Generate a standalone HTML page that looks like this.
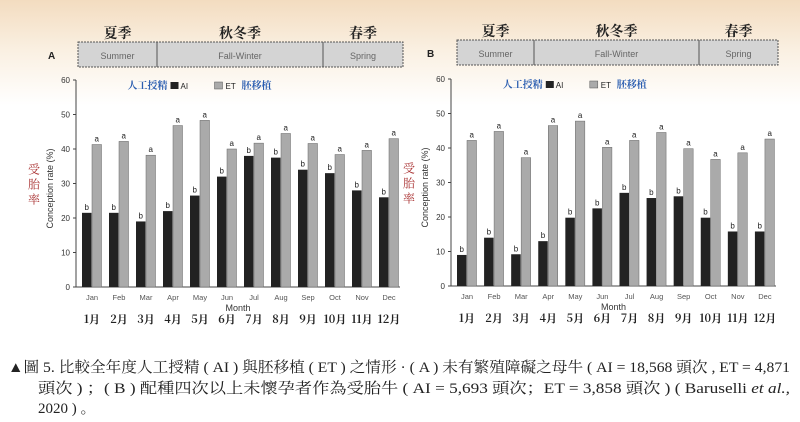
<!DOCTYPE html>
<html><head><meta charset="utf-8"><style>
html,body{margin:0;padding:0;background:#fff;}
svg{display:block;font-family:"Liberation Sans","Noto Sans CJK TC",sans-serif;}
</style></head><body>
<svg id="svg" width="800" height="422" viewBox="0 0 800 422">
<defs><linearGradient id="bg" x1="0" y1="0" x2="0" y2="1">
<stop offset="0" stop-color="#f3dcc0"/><stop offset="0.12" stop-color="#faf0e2"/><stop offset="0.25" stop-color="#ffffff"/></linearGradient></defs>
<rect width="800" height="422" fill="url(#bg)"/>
<g id="caption" font-family="'Liberation Serif','Noto Serif CJK SC',serif" font-size="15" fill="#222">
<text x="8" y="372" textLength="782" lengthAdjust="spacingAndGlyphs">▲圖 5. 比較全年度人工授精 ( AI ) 與胚移植 ( ET ) 之情形 · ( A ) 未有繁殖障礙之母牛 ( AI = 18,568 頭次 , ET = 4,871</text>
<text x="38" y="393" textLength="752" lengthAdjust="spacingAndGlyphs">頭次 ) ；( B ) 配種四次以上未懷孕者作為受胎牛 ( AI = 5,693 頭次；ET = 3,858 頭次 ) ( Baruselli <tspan font-style="italic">et al.,</tspan></text>
<text x="38" y="413">2020 ) 。</text>
</g>
</svg>
<script>
const months=["Jan","Feb","Mar","Apr","May","Jun","Jul","Aug","Sep","Oct","Nov","Dec"];
const monthsZh=["1月","2月","3月","4月","5月","6月","7月","8月","9月","10月","11月","12月"];
const yTicks=[0,10,20,30,40,50,60];
const aiA=[21.5,21.5,19,22,26.5,32,38,37.5,34,33,28,26];
const etA=[41.3,42.2,38.2,46.8,48.3,40,41.7,44.5,41.6,38.4,39.6,43];
const aiB=[9,14,9.2,13,19.8,22.5,27,25.5,26,19.8,15.8,15.8];
const etB=[42.2,44.8,37.2,46.5,47.8,40.2,42.2,44.5,39.8,36.7,38.6,42.6];
const NS="http://www.w3.org/2000/svg";
const svg=document.getElementById('svg');
function mk(p,tag,at,txt){const e=document.createElementNS(NS,tag);for(const k in at)e.setAttribute(k,at[k]);if(txt!==undefined)e.textContent=txt;p.appendChild(e);return e;}
function chart(id,ox,y0,y60,xEnd,box,letter,ai,et){
  const g=mk(svg,'g',{});
  
  
  const y=v=>y0-(v/60)*(y0-y60);
  const step=(xEnd-ox)/12;
  const x=i=>ox+6+step*i;
  // season box
  const sb=mk(g,'g',{});
  
  
  mk(sb,'rect',{x:box[0],y:box[4],width:box[3]-box[0],height:25,fill:'#d4d4d4',stroke:'#555','stroke-width':1,'stroke-dasharray':'2 1'});
  mk(sb,'line',{x1:box[1],x2:box[1],y1:box[4],y2:box[4]+25,stroke:'#555'});
  mk(sb,'line',{x1:box[2],x2:box[2],y1:box[4],y2:box[4]+25,stroke:'#555'});
  const sn=[["Summer","夏季"],["Fall-Winter","秋冬季"],["Spring","春季"]];
  for(let k=0;k<3;k++){const cx=(box[k]+box[k+1])/2;
    const t=mk(sb,'text',{x:cx,y:box[4]+17,'font-size':9,fill:'#666','text-anchor':'middle'},sn[k][0]);
    
    
    const z=mk(sb,'text',{x:cx,y:box[4]-4,'font-size':14,'font-weight':'bold',fill:'#222','text-anchor':'middle','font-family':"'Noto Serif CJK SC',serif"},sn[k][1]);
    
    }
  const L=mk(g,'text',{x:box[0]-30,y:box[4]+17,'font-size':10,'font-weight':'bold',fill:'#222'},letter);
  
  
  // axes
  mk(g,'line',{x1:ox,x2:ox,y1:y60,y2:y0,stroke:'#444'});
  mk(g,'line',{x1:ox,x2:xEnd,y1:y0,y2:y0,stroke:'#444'});
  yTicks.forEach(v=>{mk(g,'line',{x1:ox-3,x2:ox,y1:y(v),y2:y(v),stroke:'#444'});
    const t=mk(g,'text',{x:ox-6,y:y(v)+3,'font-size':8,fill:'#333','text-anchor':'end'},v);
    
    });
  const yt=mk(g,'text',{transform:`translate(${ox-23},${(y0+y60)/2+5}) rotate(-90)`,'font-size':9,fill:'#333','text-anchor':'middle'},'Conception rate (%)');
  
  
  const yz=mk(g,'text',{x:ox-48,y:(y0+y60)/2-10,'font-size':12,fill:'#a33','font-family':"'Noto Serif CJK SC',serif"});
  
  
  ['受','胎','率'].forEach((c,i)=>mk(yz,'tspan',{x:ox-48,dy:i?15:0},c));
  // legend
  const lg=mk(g,'g',{});
  
  
  const lx=ox+step*3.5;
  mk(lg,'text',{x:lx-3,y:y60+9,'font-size':10,'font-weight':'bold',fill:'#2a5db0','text-anchor':'end','font-family':"'Noto Serif CJK SC',serif"},'人工授精');
  mk(lg,'rect',{x:lx,y:y60+2,width:8,height:7,fill:'#222'});
  mk(lg,'text',{x:lx+10,y:y60+9,'font-size':8,fill:'#222'},'AI');
  mk(lg,'rect',{x:lx+44,y:y60+2,width:8,height:7,fill:'#aaa',stroke:'#555','stroke-width':.5});
  mk(lg,'text',{x:lx+55,y:y60+9,'font-size':8,fill:'#222'},'ET');
  mk(lg,'text',{x:lx+71,y:y60+9,'font-size':10,'font-weight':'bold',fill:'#2a5db0','font-family':"'Noto Serif CJK SC',serif"},'胚移植');
  for(let i=0;i<12;i++){
    const bx=x(i);
    const a=mk(g,'rect',{x:bx,y:y(ai[i]),width:9.5,height:y0-y(ai[i]),fill:'#222'});
    
    
    const e=mk(g,'rect',{x:bx+10,y:y(et[i]),width:9.5,height:y0-y(et[i]),fill:'#aaa',stroke:'#666','stroke-width':.5});
    
    
    mk(g,'text',{x:bx+4.75,y:y(ai[i])-3,'font-size':8,fill:'#222','text-anchor':'middle'},'b');
    mk(g,'text',{x:bx+14.75,y:y(et[i])-3,'font-size':8,fill:'#222','text-anchor':'middle'},'a');
    const t=mk(g,'text',{x:bx+10,y:y0+13,'font-size':7.5,fill:'#555','text-anchor':'middle'},months[i]);
    
    
    const z=mk(g,'text',{x:bx+10,y:y0+36,'font-size':11,'font-weight':'bold',fill:'#222','text-anchor':'middle','font-family':"'Noto Serif CJK SC',serif"},monthsZh[i]);
    
    
  }
  const xt=mk(g,'text',{x:(ox+xEnd)/2,y:y0+24,'font-size':9,fill:'#333','text-anchor':'middle'},'Month');
  
  
}
chart('a',76,287,80,400,[78,157,323,403,42],'A',aiA,etA);
chart('b',451,286,79,776,[457,534,699,778,40],'B',aiB,etB);
</script>
</body></html>
